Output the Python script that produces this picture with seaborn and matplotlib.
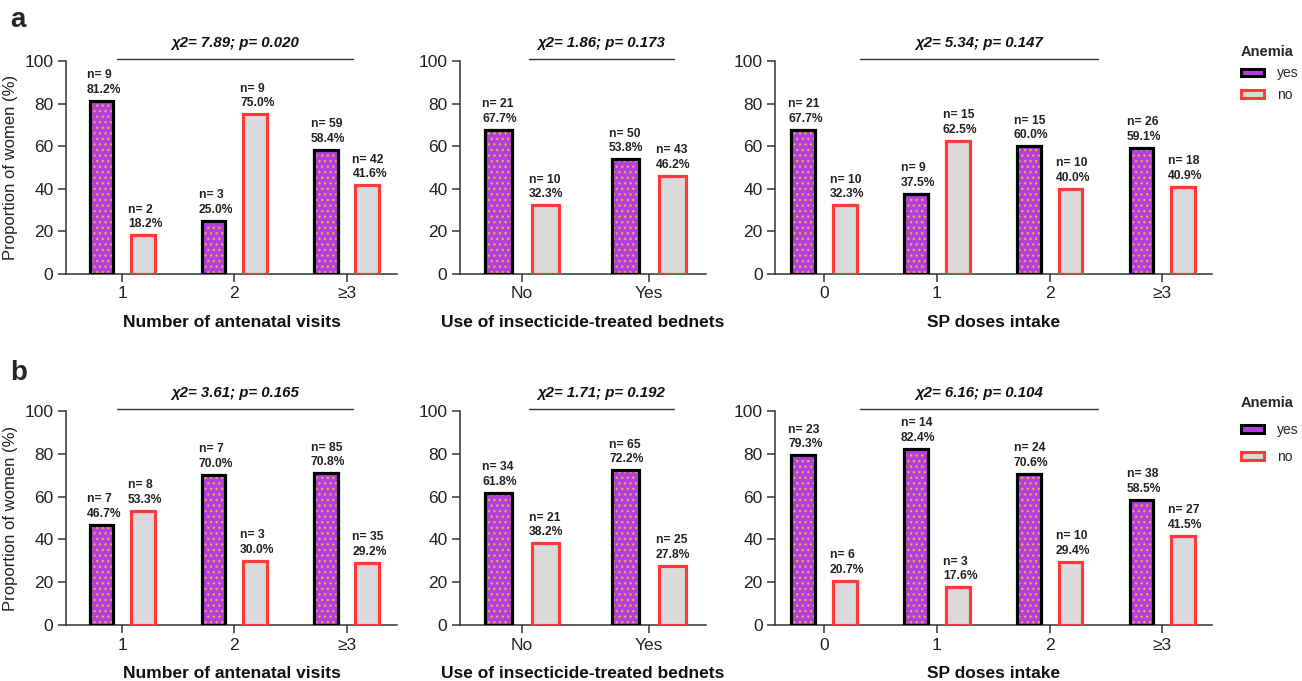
import numpy as np
import pandas as pd
import matplotlib
matplotlib.use("Agg")
import matplotlib.pyplot as plt
import seaborn as sns
from matplotlib.patches import Rectangle, Patch

sns.set_theme(style="ticks")
plt.rcParams["font.family"] = ["Liberation Sans", "DejaVu Sans"]

# ---- data -------------------------------------------------------------
anc_cats = ["1", "2", "≥3"]
itn_cats = ["No", "Yes"]
sp_cats = ["0", "1", "2", "≥3"]

# row a
a_anc_yes = [81.2, 25.0, 58.4]
a_anc_yes_n = [9, 3, 59]
a_anc_no = [18.2, 75.0, 41.6]
a_anc_no_n = [2, 9, 42]

a_itn_yes = [67.7, 53.8]
a_itn_yes_n = [21, 50]
a_itn_no = [32.3, 46.2]
a_itn_no_n = [10, 43]

a_sp_yes = [67.7, 37.5, 60.0, 59.1]
a_sp_yes_n = [21, 9, 15, 26]
a_sp_no = [32.3, 62.5, 40.0, 40.9]
a_sp_no_n = [10, 15, 10, 18]

# row b
b_anc_yes = [46.7, 70.0, 70.8]
b_anc_yes_n = [7, 7, 85]
b_anc_no = [53.3, 30.0, 29.2]
b_anc_no_n = [8, 3, 35]

b_itn_yes = [61.8, 72.2]
b_itn_yes_n = [34, 65]
b_itn_no = [38.2, 27.8]
b_itn_no_n = [21, 25]

b_sp_yes = [79.3, 82.4, 70.6, 58.5]
b_sp_yes_n = [23, 14, 24, 38]
b_sp_no = [20.7, 17.6, 29.4, 41.5]
b_sp_no_n = [6, 3, 10, 27]

chi_a = [("7.89", "0.020"), ("1.86", "0.173"), ("5.34", "0.147")]
chi_b = [("3.61", "0.165"), ("1.71", "0.192"), ("6.16", "0.104")]

xlabels = ["Number of antenatal visits",
           "Use of insecticide-treated bednets",
           "SP doses intake"]
groups = ["yes", "no"]

# ---- styling ----------------------------------------------------------
PURPLE = "#b43de2"
GRAY = "#dadada"
RED = "#ff3a3a"
DOTS = "#e3b043"
AXC = "#333333"

fig = plt.figure(figsize=(13.02, 6.81), dpi=100)
W, H = 1302, 681

col_px = [(66, 397), (460, 706), (775, 1212)]
row_px = [(61, 274), (411, 625)]
xlims = [(-0.5, 2.45), (-0.49, 1.45), (-0.435, 3.44)]
chi_span = [(-0.045, 2.06), (0.055, 1.2), (0.32, 2.43)]

panels = [
    [(anc_cats, a_anc_yes, a_anc_yes_n, a_anc_no, a_anc_no_n),
     (itn_cats, a_itn_yes, a_itn_yes_n, a_itn_no, a_itn_no_n),
     (sp_cats, a_sp_yes, a_sp_yes_n, a_sp_no, a_sp_no_n)],
    [(anc_cats, b_anc_yes, b_anc_yes_n, b_anc_no, b_anc_no_n),
     (itn_cats, b_itn_yes, b_itn_yes_n, b_itn_no, b_itn_no_n),
     (sp_cats, b_sp_yes, b_sp_yes_n, b_sp_no, b_sp_no_n)],
]
chis = [chi_a, chi_b]

for r, (top, bot) in enumerate(row_px):
    for c, (left, right) in enumerate(col_px):
        ax = fig.add_axes([left / W, 1 - bot / H, (right - left) / W, (bot - top) / H])
        cats, yv, yn, nv, nn = panels[r][c]
        df = pd.DataFrame({
            "cat": cats + cats,
            "pct": yv + nv,
            "n": yn + nn,
            "anemia": ["yes"] * len(cats) + ["no"] * len(cats),
        })
        sns.barplot(data=df, x="cat", y="pct", hue="anemia", order=cats,
                    hue_order=groups, palette={"yes": PURPLE, "no": GRAY},
                    width=0.74, gap=0.43, saturation=1, linewidth=0,
                    errorbar=None, legend=False, ax=ax)

        for gi, cont in enumerate(ax.containers):
            sub = df[df["anemia"] == groups[gi]].set_index("cat").loc[cats]
            for bar, val, n in zip(cont, sub["pct"], sub["n"]):
                x0, w, h = bar.get_x(), bar.get_width(), bar.get_height()
                if gi == 0:
                    bar.set_facecolor(PURPLE)
                    bar.set_linewidth(0)
                    ax.add_patch(Rectangle((x0, 0), w, h, facecolor="none",
                                           edgecolor=DOTS, hatch="...",
                                           linewidth=0, zorder=3))
                    ax.add_patch(Rectangle((x0, 0), w, h, fill=False,
                                           edgecolor="black", linewidth=2.3,
                                           zorder=4))
                else:
                    bar.set_facecolor(GRAY)
                    bar.set_edgecolor(RED)
                    bar.set_linewidth(2.3)
                    bar.set_zorder(4)
                ax.annotate(f"n= {n}\n{val:.1f}%", xy=(x0, h),
                            xytext=(-3, 5), textcoords="offset pixels",
                            ha="left", va="bottom", fontsize=8.7,
                            fontweight="bold", color="#222222",
                            linespacing=1.3, annotation_clip=False)

        ax.set_xlim(*xlims[c])
        ax.set_ylim(0, 100)
        ax.set_yticks([0, 20, 40, 60, 80, 100])
        sns.despine(ax=ax)
        for s in ("left", "bottom"):
            ax.spines[s].set_color(AXC)
            ax.spines[s].set_linewidth(1.1)
        ax.tick_params(axis="both", labelsize=12.5, length=6, width=1.1,
                       color=AXC, labelcolor="#222222", pad=3)
        ax.set_xlabel(xlabels[c], fontsize=12.5, fontweight="bold",
                      labelpad=10, color="#111111")
        if c == 0:
            ax.set_ylabel("Proportion of women (%)", fontsize=12,
                          color="#222222", labelpad=5)
        else:
            ax.set_ylabel("")

        x0, x1 = chi_span[c]
        ax.plot([x0, x1], [101, 101], color=AXC, lw=1.0, clip_on=False)
        chi, p = chis[r][c]
        ax.text((x0 + x1) / 2, 108.5, f"χ2= {chi}; p= {p}", ha="center",
                va="center", fontsize=10.8, fontweight="bold",
                style="italic", color="#111111", clip_on=False)

# panel letters
fig.text(10 / W, 1 - 20 / H, "a", fontsize=20, fontweight="bold",
         va="center", ha="left")
fig.text(10 / W, 1 - 373 / H, "b", fontsize=20, fontweight="bold",
         va="center", ha="left")

# legends
for top, spacing in ((42, 0.55), (393, 0.95)):
    handles = [Patch(facecolor=PURPLE, edgecolor="black", linewidth=2.2, label="yes"),
               Patch(facecolor=GRAY, edgecolor=RED, linewidth=2.2, label="no")]
    fig.legend(handles=handles, title="Anemia", loc="upper left",
               bbox_to_anchor=(1238 / W, 1 - top / H), frameon=False,
               fontsize=10, title_fontproperties={"weight": "bold", "size": 10.5},
               handlelength=1.7, handleheight=0.45, handletextpad=0.9,
               labelspacing=spacing, alignment="left", borderaxespad=0,
               borderpad=0.2)

fig.savefig("out.png", dpi=100, facecolor="white")
